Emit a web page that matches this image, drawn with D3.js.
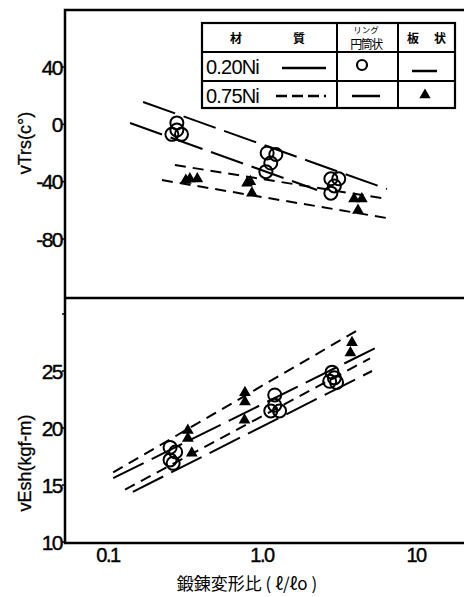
<!DOCTYPE html>
<html>
<head>
<meta charset="utf-8">
<script src="https://cdn.jsdelivr.net/npm/d3@7"></script>
<style>
  body { margin: 0; background: #fff; }
  text { font-family: "Liberation Sans", Arial, sans-serif; fill: #000; }
  .jp { font-family: "Noto Sans CJK JP", sans-serif; }
</style>
</head>
<body>
<script>
// x: forging ratio (log), shared by both panels
const xTicks = [0.1, 1, 10];
const xTickLabels = ["0.1", "1.0", "10"];

// top panel: vTrs (°C)
const vtrsTicks = [40, 0, -40, -80];
const vtrsRing020 = [[0.28, 1], [0.28, -4], [0.26, -7], [0.30, -7],
                     [1.08, -20], [1.23, -21], [1.14, -27], [1.06, -33],
                     [2.8, -38], [3.15, -38], [2.95, -43], [2.8, -48]];
const vtrsPlate075 = [[0.32, -39], [0.34, -38], [0.38, -38],
                      [0.80, -41], [0.84, -40], [0.86, -48],
                      [3.96, -52], [4.45, -52], [4.2, -60]];
const vtrsLines020 = [[[0.169, 15.6], [6.48, -45.1]], [[0.139, 0.9], [2.28, -45.8]]];
const vtrsLines075 = [[[0.272, -28.4], [6.48, -52.1]], [[0.224, -38.9], [6.48, -65.4]]];

// bottom panel: vEsh (kgf-m)
const veshTicks = [30, 25, 20, 15, 10];
const veshTickLabels = ["", "25", "20", "15", "10"];
const veshRing020 = [[0.253, 18.3], [0.275, 17.9], [0.253, 17.2], [0.265, 16.9],
                     [1.21, 22.9], [1.21, 22.0], [1.14, 21.5], [1.3, 21.5],
                     [2.85, 24.9], [2.75, 24.1], [3.05, 24.0], [2.95, 24.4]];
const veshPlate075 = [[0.33, 19.8], [0.33, 19.1], [0.35, 17.8],
                      [0.775, 23.1], [0.775, 22.3], [0.77, 20.7],
                      [3.84, 27.5], [3.75, 26.6]];
const veshLines020 = [[[0.108, 15.6], [6.02, 27.3]], [[0.145, 14.4], [5.18, 25.0]]];
const veshLines075 = [[[0.108, 16.1], [4.46, 28.8]], [[0.129, 14.6], [5.03, 26.1]]];

const W = 464, H = 597;
const frameL = 65, frameR = 475, frameT = 10, frameMid = 298, frameB = 543;

const svg = d3.select("body").append("svg")
    .attr("width", W).attr("height", H);

const x = d3.scaleLog().domain([0.1, 10]).range([108, 416]);
const yTop = d3.scaleLinear().domain([-80, 40]).range([239, 67]);
const yBot = d3.scaleLinear().domain([10, 25]).range([542, 371]);

// frame
svg.append("rect")
    .attr("x", frameL).attr("y", frameT)
    .attr("width", frameR - frameL).attr("height", frameB - frameT)
    .attr("fill", "none").attr("stroke", "#000").attr("stroke-width", 2.5);
svg.append("line")
    .attr("x1", frameL).attr("x2", frameR).attr("y1", frameMid).attr("y2", frameMid)
    .attr("stroke", "#000").attr("stroke-width", 2.5);

// y axes
function yAxis(scale, ticks, labels) {
    const g = svg.append("g");
    g.selectAll("line").data(ticks).join("line")
        .attr("x1", frameL - 3).attr("x2", frameL)
        .attr("y1", d => scale(d)).attr("y2", d => scale(d))
        .attr("stroke", "#000").attr("stroke-width", 1.5);
    g.selectAll("text").data(ticks).join("text")
        .attr("x", frameL - 3)
        .attr("y", d => scale(d) + 7.5)
        .attr("text-anchor", "end")
        .attr("font-size", 21)
        .attr("letter-spacing", -1.5)
        .attr("stroke", "#000").attr("stroke-width", 0.4)
        .text((d, i) => labels[i]);
}
yAxis(yTop, vtrsTicks, vtrsTicks.map(d => d < 0 ? "-" + Math.abs(d) : String(d)));
yAxis(yBot, veshTicks, veshTickLabels);

// x axis labels
svg.append("g").selectAll("text").data(xTicks).join("text")
    .attr("x", d => x(d)).attr("y", frameB + 19)
    .attr("text-anchor", "middle")
    .attr("font-size", 20)
    .attr("letter-spacing", -1.5)
    .attr("stroke", "#000").attr("stroke-width", 0.4)
    .text((d, i) => xTickLabels[i]);

svg.append("text").attr("class", "jp")
    .attr("x", 247).attr("y", 590)
    .attr("text-anchor", "middle").attr("font-size", 17)
    .text("鍛錬変形比 ( ℓ/ℓo )");

svg.append("text")
    .attr("transform", "translate(31,143) rotate(-90)")
    .attr("text-anchor", "middle").attr("font-size", 18)
    .attr("stroke", "#000").attr("stroke-width", 0.3)
    .text("vTrs(c°)");
svg.append("text")
    .attr("transform", "translate(31,463) rotate(-90)")
    .attr("text-anchor", "middle").attr("font-size", 18)
    .attr("stroke", "#000").attr("stroke-width", 0.3)
    .text("vEsh(kgf-m)");

// lines and markers
const lineGen = y => d3.line().x(d => x(d[0])).y(d => y(d[1]));

function panel(y, lines020, lines075, rings, plates) {
    const g = svg.append("g");
    g.selectAll(".l020").data(lines020).join("path")
        .attr("d", lineGen(y))
        .attr("fill", "none").attr("stroke", "#000").attr("stroke-width", 2)
        .attr("stroke-dasharray", "34,9");
    g.selectAll(".l075").data(lines075).join("path")
        .attr("d", lineGen(y))
        .attr("fill", "none").attr("stroke", "#000").attr("stroke-width", 2)
        .attr("stroke-dasharray", "11,7");
    g.selectAll(".ring").data(rings).join("circle")
        .attr("cx", d => x(d[0])).attr("cy", d => y(d[1]))
        .attr("r", 6.5)
        .attr("fill", "none").attr("stroke", "#000").attr("stroke-width", 2);
    g.selectAll(".plate").data(plates).join("path")
        .attr("transform", d => `translate(${x(d[0])},${y(d[1])})`)
        .attr("d", d3.symbol(d3.symbolTriangle, 60))
        .attr("fill", "#000");
}
panel(yTop, vtrsLines020, vtrsLines075, vtrsRing020, vtrsPlate075);
panel(yBot, veshLines020, veshLines075, veshRing020, veshPlate075);

// legend table
const tb = svg.append("g");
const cols = [202, 337, 398, 455];
const rows = [23, 52, 81, 108];
tb.append("rect")
    .attr("x", cols[0]).attr("y", rows[0])
    .attr("width", cols[3] - cols[0]).attr("height", rows[3] - rows[0])
    .attr("fill", "#fff").attr("stroke", "#000").attr("stroke-width", 2.2);
[rows[1], rows[2]].forEach(r => tb.append("line")
    .attr("x1", cols[0]).attr("x2", cols[3]).attr("y1", r).attr("y2", r)
    .attr("stroke", "#000").attr("stroke-width", 2));
[cols[1], cols[2]].forEach(c => tb.append("line")
    .attr("x1", c).attr("x2", c).attr("y1", rows[0]).attr("y2", rows[3])
    .attr("stroke", "#000").attr("stroke-width", 2));

tb.append("text").attr("class", "jp").attr("x", 236).attr("y", 43)
    .attr("font-size", 12).attr("font-weight", "bold").attr("text-anchor", "middle").text("材");
tb.append("text").attr("class", "jp").attr("x", 299).attr("y", 43)
    .attr("font-size", 12).attr("font-weight", "bold").attr("text-anchor", "middle").text("質");
tb.append("text").attr("class", "jp").attr("x", 366).attr("y", 33)
    .attr("font-size", 8.5).attr("text-anchor", "middle").text("リング");
tb.append("text").attr("class", "jp").attr("x", 366).attr("y", 49)
    .attr("font-size", 12).attr("letter-spacing", -1.5).attr("text-anchor", "middle").text("円筒状");
tb.append("text").attr("class", "jp").attr("x", 413).attr("y", 43)
    .attr("font-size", 12).attr("font-weight", "bold").attr("text-anchor", "middle").text("板");
tb.append("text").attr("class", "jp").attr("x", 440).attr("y", 43)
    .attr("font-size", 12).attr("font-weight", "bold").attr("text-anchor", "middle").text("状");

tb.append("text").attr("x", 206).attr("y", 74)
    .attr("font-size", 20).attr("letter-spacing", -0.8).text("0.20Ni");
tb.append("text").attr("x", 206).attr("y", 103)
    .attr("font-size", 20).attr("letter-spacing", -0.8).text("0.75Ni");
tb.append("line").attr("x1", 282).attr("x2", 326).attr("y1", 68).attr("y2", 68)
    .attr("stroke", "#000").attr("stroke-width", 2.5);
tb.append("line").attr("x1", 276).attr("x2", 326).attr("y1", 96).attr("y2", 96)
    .attr("stroke", "#000").attr("stroke-width", 2.5).attr("stroke-dasharray", "11,5");
tb.append("circle").attr("cx", 362).attr("cy", 65).attr("r", 5)
    .attr("fill", "none").attr("stroke", "#000").attr("stroke-width", 2.2);
tb.append("line").attr("x1", 352).attr("x2", 380).attr("y1", 96).attr("y2", 96)
    .attr("stroke", "#000").attr("stroke-width", 2.5);
tb.append("line").attr("x1", 412).attr("x2", 437).attr("y1", 71).attr("y2", 71)
    .attr("stroke", "#000").attr("stroke-width", 2.5);
tb.append("path").attr("transform", "translate(425,95)")
    .attr("d", d3.symbol(d3.symbolTriangle, 55)).attr("fill", "#000");
</script>
</body>
</html>
